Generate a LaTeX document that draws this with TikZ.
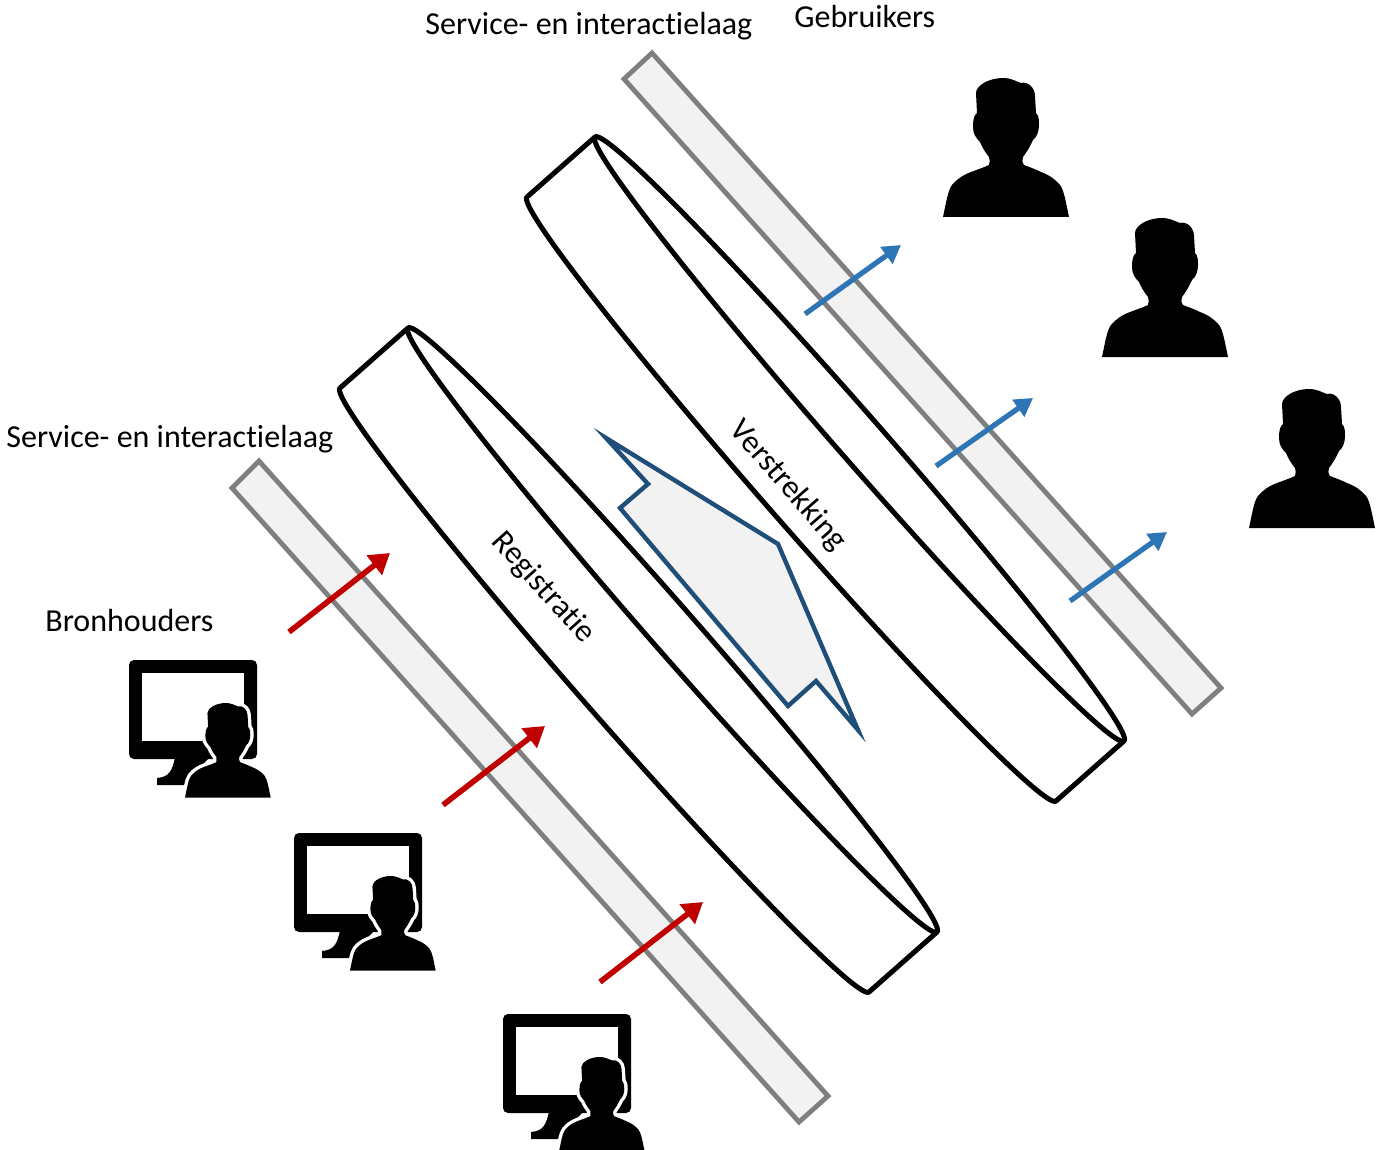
\documentclass[tikz,border=0pt]{standalone}
\usepackage{fontspec}
\setmainfont[Ligatures=NoCommon]{Carlito}
\usetikzlibrary{arrows.meta}
\definecolor{barfill}{HTML}{F2F2F2}
\definecolor{bargrey}{HTML}{7F7F7F}
\definecolor{arrowblue}{HTML}{2E75B6}
\definecolor{arrowred}{HTML}{C00000}
\definecolor{shapeblue}{HTML}{1F4E79}
\tikzset{
  lab/.style={font=\fontsize{16pt}{18pt}\selectfont,inner sep=0pt,text=black},
  barshape/.style={fill=barfill,draw=bargrey,line width=2.4pt,line join=miter},
  canline/.style={draw=black,line width=2.5pt,line join=round},
  blueflow/.style={draw=arrowblue,line width=2.6pt,-{Triangle[length=9pt,width=10pt]}},
  redflow/.style={draw=arrowred,line width=2.8pt,-{Triangle[length=10pt,width=12pt]}},
  pics/silhouette/.style={code={
    \path[pic actions] (0,139)
      .. controls (3,125) and (5,112) .. (9,107)
      .. controls (14,101) and (20,97) .. (28,94)
      .. controls (36,91) and (42,89) .. (46,87)
      .. controls (47,84) and (47,82) .. (46,79)
      .. controls (42,74) and (39,69) .. (37,64)
      .. controls (33,60) and (30,56) .. (30,49)
      .. controls (30,42) and (31,37) .. (34,35)
      -- (33,15)
      .. controls (33,8) and (45,0) .. (60,0)
      .. controls (68,0) and (72,3) .. (78,5)
      .. controls (85,3) and (92,10) .. (92,18)
      -- (93,35)
      .. controls (96,38) and (96,42) .. (96,47)
      .. controls (96,53) and (94,59) .. (90,62)
      .. controls (87,69) and (83,75) .. (80,79)
      .. controls (79,82) and (79,84) .. (81,87)
      .. controls (86,89) and (92,91) .. (98,94)
      .. controls (106,97) and (112,101) .. (117,107)
      .. controls (121,112) and (123,125) .. (126,139)
      -- cycle;
  }},
  pics/workstation/.style={code={
    \fill[black,rounded corners=2.5pt] (0,0) rectangle (128,99);
    \fill[white] (13,13) rectangle (115,81);
    \fill[black] (46,98) .. controls (43,110) and (41,117) .. (28,118) -- (28,125) -- (62,125) -- (75,103) -- (80,98) -- cycle;
    \pic[scale=.68,draw=white,fill=white,line width=3.4pt,line join=round] at (56,43) {silhouette};
    \pic[scale=.68,fill=black] at (56,43) {silhouette};
  }},
  pics/tube/.style={code={
    \path[canline] (529,604) -- (461,664)
      .. controls (451.45,672.4) and (325.3,544) .. (179.2,377.2)
      .. controls (33.1,210.4) and (-77.55,68.4) .. (-68,60)
      -- (0,0);
    \path[canline] (0,0)
      .. controls (9.55,-8.4) and (135.7,120) .. (281.8,286.8)
      .. controls (427.9,453.6) and (538.55,595.6) .. (529,604)
      .. controls (519.45,612.4) and (393.3,484) .. (247.2,317.2)
      .. controls (101.1,150.4) and (-9.55,8.4) .. (0,0) -- cycle;
  }}
}
\begin{document}
\begin{tikzpicture}[x=.5pt,y=-.5pt]
\useasboundingbox (0,0) rectangle (1376,1150);
% bars
\draw[barshape] (652,53) -- (624,79) -- (1192,714) -- (1221,688) -- cycle;
\draw[barshape] (259,461) -- (232,488) -- (799,1122) -- (828,1096) -- cycle;
% cans
\pic at (595,137) {tube};
\pic at (408,328) {tube};
% central shape
\draw[fill=barfill,draw=shapeblue,line width=2.2pt,line join=miter,miter limit=20] (606,438) -- (648,484) -- (620,508) -- (788,706) -- (816,681) -- (858,730) -- (778,544) -- cycle;
% users
\pic[fill=black] at (943,78) {silhouette};
\pic[fill=black] at (1102,218) {silhouette};
\pic[fill=black] at (1249,389) {silhouette};
% workstations
\pic at (129,660) {workstation};
\pic at (294,833) {workstation};
\pic at (503,1014) {workstation};
% arrow ends
\coordinate (b1s) at (805,314); \coordinate (b1e) at (901,245);
\coordinate (b2s) at (936,466); \coordinate (b2e) at (1033,398);
\coordinate (b3s) at (1070,601); \coordinate (b3e) at (1167,532);
\coordinate (r1s) at (289,632); \coordinate (r1e) at (390,553);
\coordinate (r2s) at (443,805); \coordinate (r2e) at (545,726);
\coordinate (r3s) at (600,982); \coordinate (r3e) at (703,902);
\draw[blueflow] (b1s) -- (b1e);
\draw[blueflow] (b2s) -- (b2e);
\draw[blueflow] (b3s) -- (b3e);
\draw[redflow] (r1s) -- (r1e);
\draw[redflow] (r2s) -- (r2e);
\draw[redflow] (r3s) -- (r3e);
% labels
\node[lab,anchor=base west] (t1) at (425,35) {Service- en interactielaag};
\node[lab,anchor=base west] (t2) at (794,28) {Gebruikers};
\node[lab,anchor=base west] (t3) at (6,447) {Service- en interactielaag};
\node[lab,anchor=base west] (t4) at (45,631) {Bronhouders};
\node[lab,rotate=-49] (t5) at (788,486) {Verstrekking};
\node[lab,rotate=-48] (t6) at (543,588) {Registratie};
\end{tikzpicture}
\end{document}
